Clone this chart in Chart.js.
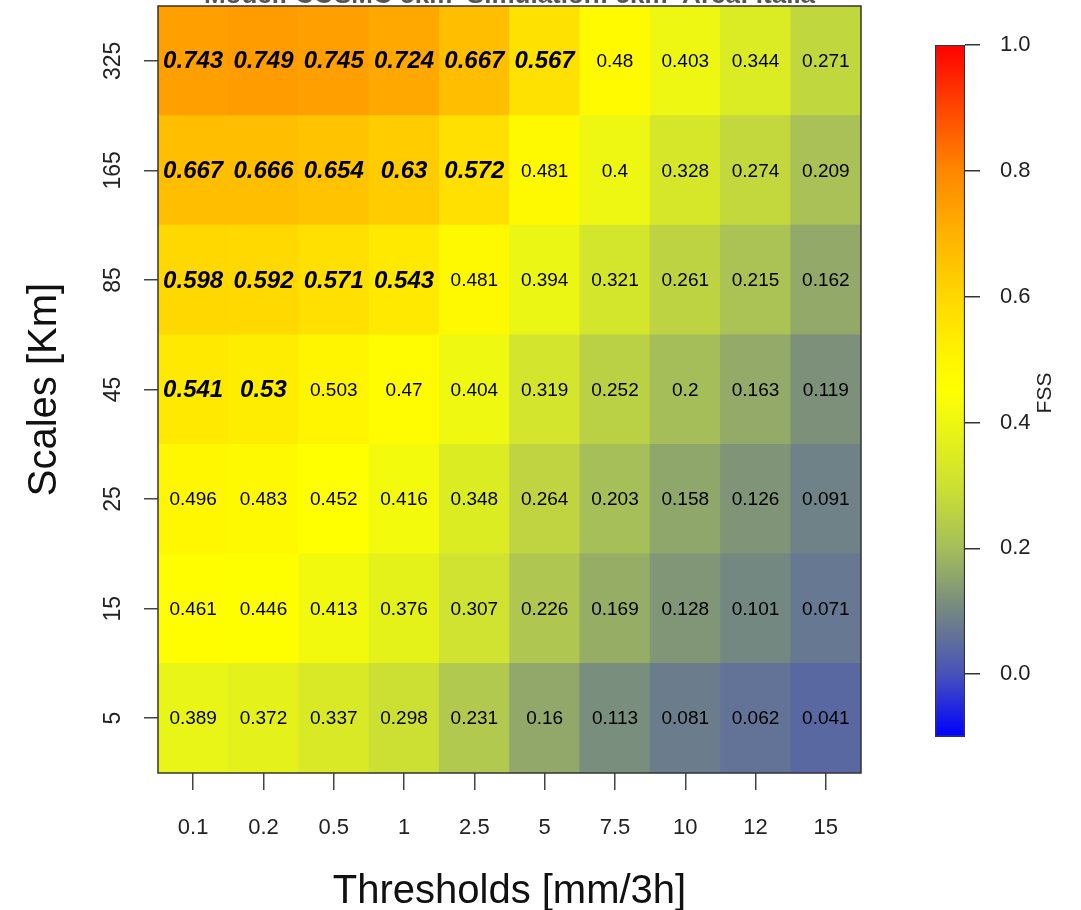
<!DOCTYPE html>
<html>
<head>
<meta charset="utf-8">
<script src="https://cdn.jsdelivr.net/npm/chart.js@4.4.1/dist/chart.umd.min.js"></script>
<style>
  html, body { margin: 0; padding: 0; background: #fff; }
  #wrap { position: relative; width: 1081px; height: 910px; }
  #heat { position: absolute; left: 0; top: 0; }
  #cbar { position: absolute; left: 900px; top: 0; }
</style>
</head>
<body>
<div id="wrap">
  <canvas id="heat" width="1081" height="910"></canvas>
  <canvas id="cbar" width="181" height="910"></canvas>
</div>
<script>
// categories
const thresholds = ['0.1', '0.2', '0.5', '1', '2.5', '5', '7.5', '10', '12', '15'];
const scaleLabels = ['5', '15', '25', '45', '85', '165', '325']; // bottom to top

// FSS per scale (one value per threshold)
const fss5 = [0.389, 0.372, 0.337, 0.298, 0.231, 0.16, 0.113, 0.081, 0.062, 0.041];
const fss15 = [0.461, 0.446, 0.413, 0.376, 0.307, 0.226, 0.169, 0.128, 0.101, 0.071];
const fss25 = [0.496, 0.483, 0.452, 0.416, 0.348, 0.264, 0.203, 0.158, 0.126, 0.091];
const fss45 = [0.541, 0.53, 0.503, 0.47, 0.404, 0.319, 0.252, 0.2, 0.163, 0.119];
const fss85 = [0.598, 0.592, 0.571, 0.543, 0.481, 0.394, 0.321, 0.261, 0.215, 0.162];
const fss165 = [0.667, 0.666, 0.654, 0.63, 0.572, 0.481, 0.4, 0.328, 0.274, 0.209];
const fss325 = [0.743, 0.749, 0.745, 0.724, 0.667, 0.567, 0.48, 0.403, 0.344, 0.271];
const fssRows = [fss5, fss15, fss25, fss45, fss85, fss165, fss325];

// "useful" FSS level per threshold, values above it are shown bold italic
const fssUseful = [0.52, 0.52, 0.51, 0.51, 0.51, 0.505, 0.505, 0.503, 0.502, 0.501];

// colour bar
const colorbarRange = [-0.1, 1.0];
const colorbarTicks = [0, 0.2, 0.4, 0.6, 0.8, 1.0];

const titleText = 'Model: COSMO 5km  Simulation: 5km  Area: Italia';

Chart.defaults.font.family = '"Liberation Sans", Arial, Helvetica, sans-serif';
Chart.defaults.color = '#111';

// blue -> grey -> yellow -> orange -> red
const ramp = [
  [-0.1, [0, 0, 255]],
  [0.0, [72, 82, 185]],
  [0.1, [115, 135, 130]],
  [0.2, [165, 190, 90]],
  [0.3, [205, 225, 50]],
  [0.4, [237, 247, 18]],
  [0.45, [255, 255, 0]],
  [0.5, [255, 246, 0]],
  [0.6, [255, 215, 0]],
  [0.7, [255, 178, 0]],
  [0.8, [255, 135, 0]],
  [0.9, [255, 70, 0]],
  [1.0, [255, 0, 0]]
];

function fssColor(v) {
  if (v <= ramp[0][0]) return 'rgb(' + ramp[0][1].join(',') + ')';
  for (let i = 1; i < ramp.length; i++) {
    if (v <= ramp[i][0]) {
      const [v0, c0] = ramp[i - 1];
      const [v1, c1] = ramp[i];
      const t = (v - v0) / (v1 - v0);
      const c = c0.map((a, k) => Math.round(a + (c1[k] - a) * t));
      return 'rgb(' + c.join(',') + ')';
    }
  }
  return 'rgb(' + ramp[ramp.length - 1][1].join(',') + ')';
}

// one floating-bar dataset per scale row
const datasets = fssRows.map((row, r) => ({
  label: scaleLabels[r] + ' km',
  data: thresholds.map(() => [r, r + 1]),
  fss: row,
  backgroundColor: row.map(fssColor),
  borderWidth: 0,
  barPercentage: 1,
  categoryPercentage: 1,
  grouped: false
}));

const cellLabels = {
  id: 'cellLabels',
  afterDatasetsDraw(chart) {
    const ctx = chart.ctx;
    ctx.save();
    ctx.textAlign = 'center';
    ctx.textBaseline = 'middle';
    ctx.fillStyle = '#000';
    chart.data.datasets.forEach((ds, di) => {
      chart.getDatasetMeta(di).data.forEach((el, i) => {
        const v = ds.fss[i];
        const bold = v > fssUseful[i];
        ctx.font = bold ? 'italic bold 24px "Liberation Sans", Arial, sans-serif'
                        : '19px "Liberation Sans", Arial, sans-serif';
        ctx.fillText(String(v), el.x, (el.y + el.base) / 2 + 1);
      });
    });
    ctx.restore();
  }
};

const frameAndAxes = {
  id: 'frameAndAxes',
  afterDraw(chart) {
    const {ctx, chartArea: a, scales} = chart;
    ctx.save();
    // plot box
    ctx.strokeStyle = '#333';
    ctx.lineWidth = 1.5;
    ctx.strokeRect(a.left, a.top, a.right - a.left, a.bottom - a.top);
    // rotated y tick labels
    ctx.fillStyle = '#222';
    ctx.font = '23px "Liberation Sans", Arial, sans-serif';
    ctx.textAlign = 'center';
    ctx.textBaseline = 'middle';
    scales.y.ticks.forEach((t, i) => {
      const y = scales.y.getPixelForValue(t.value);
      ctx.save();
      ctx.translate(a.left - 44, y);
      ctx.rotate(-Math.PI / 2);
      ctx.fillText(scaleLabels[i], 0, 0);
      ctx.restore();
    });
    // title, mostly cut off at the top edge
    ctx.fillStyle = '#555';
    ctx.font = 'bold 26px "Liberation Sans", Arial, sans-serif';
    ctx.textBaseline = 'alphabetic';
    ctx.fillText(titleText, (a.left + a.right) / 2, 2.5);
    ctx.restore();
  }
};

new Chart(document.getElementById('heat'), {
  type: 'bar',
  data: { labels: thresholds, datasets: datasets },
  options: {
    responsive: false,
    animation: false,
    layout: { padding: { top: 6, right: 220, left: 0, bottom: 0 } },
    plugins: { legend: { display: false }, tooltip: { enabled: false } },
    scales: {
      x: {
        type: 'category',
        offset: true,
        grid: { drawOnChartArea: false, offset: false, tickLength: 17, color: '#444', lineWidth: 1.5 },
        border: { display: false },
        ticks: { font: { size: 22 }, color: '#222', padding: 25, maxRotation: 0, autoSkip: false },
        title: { display: true, text: 'Thresholds [mm/3h]', font: { size: 40 }, color: '#111', padding: { top: 0, bottom: -6 } },
        afterFit(s) { s.height = 137; }
      },
      y: {
        type: 'linear',
        min: 0,
        max: scaleLabels.length,
        afterBuildTicks(s) { s.ticks = scaleLabels.map((_, i) => ({ value: i + 0.5 })); },
        grid: { drawOnChartArea: false, tickLength: 14, color: '#444', lineWidth: 1.5 },
        border: { display: false },
        ticks: { display: false },
        title: { display: true, text: 'Scales [Km]', font: { size: 40 }, color: '#111', padding: { top: 21 } },
        afterFit(s) { s.width = 158; }
      }
    }
  },
  plugins: [cellLabels, frameAndAxes]
});

// colour bar
const fssTitle = {
  id: 'fssTitle',
  afterDraw(chart) {
    const ctx = chart.ctx;
    const y = chart.scales.y;
    ctx.save();
    ctx.fillStyle = '#222';
    ctx.font = '21px "Liberation Sans", Arial, sans-serif';
    ctx.textAlign = 'center';
    ctx.textBaseline = 'middle';
    ctx.translate(chart.chartArea.right + 80, y.getPixelForValue(0.45) + 2);
    ctx.rotate(-Math.PI / 2);
    ctx.fillText('FSS', 0, 0);
    ctx.restore();
  }
};

new Chart(document.getElementById('cbar'), {
  type: 'bar',
  data: {
    labels: ['FSS'],
    datasets: [{
      data: [colorbarRange],
      backgroundColor(c) {
        const chart = c.chart;
        const area = chart.chartArea;
        if (!area) return null;
        const y = chart.scales.y;
        const g = chart.ctx.createLinearGradient(0, y.getPixelForValue(colorbarRange[0]), 0, y.getPixelForValue(colorbarRange[1]));
        const span = colorbarRange[1] - colorbarRange[0];
        ramp.forEach(([v, col]) => g.addColorStop((v - colorbarRange[0]) / span, 'rgb(' + col.join(',') + ')'));
        return g;
      },
      borderColor: '#333',
      borderWidth: 1.5,
      borderSkipped: false,
      barPercentage: 1,
      categoryPercentage: 1
    }]
  },
  options: {
    responsive: false,
    animation: false,
    layout: { padding: { top: 45, left: 35, right: 0, bottom: 173 } },
    plugins: { legend: { display: false }, tooltip: { enabled: false } },
    scales: {
      x: { display: false },
      y: {
        position: 'right',
        min: colorbarRange[0],
        max: colorbarRange[1],
        afterBuildTicks(s) { s.ticks = colorbarTicks.map(v => ({ value: v })); },
        grid: { drawOnChartArea: false, tickLength: 15, color: '#333', lineWidth: 1.5 },
        border: { display: false },
        ticks: { font: { size: 22 }, color: '#222', padding: 20, callback: v => Number(v).toFixed(1) },
        afterFit(s) { s.width = 116; }
      }
    }
  },
  plugins: [fssTitle]
});
</script>
</body>
</html>
